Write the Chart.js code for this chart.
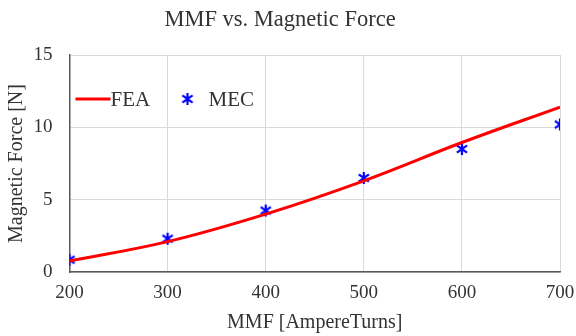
<!DOCTYPE html>
<html>
<head>
<meta charset="utf-8">
<script src="https://cdn.jsdelivr.net/npm/chart.js@4"></script>
<style>
  html, body { margin: 0; padding: 0; background: #fff; }
</style>
</head>
<body>
<canvas id="c" width="576" height="336"></canvas>
<script>
const mmf = [200, 300, 400, 500, 600, 700]
const feaForce = [0.76, 2.1, 4.0, 6.3, 8.95, 11.4]
const mecForce = [0.85, 2.3, 4.25, 6.5, 8.5, 10.2]
const yTicks = [0, 5, 10, 15]

// six-armed asterisk marker like the original
function asterisk(size, color) {
    const cv = document.createElement('canvas')
    cv.width = size
    cv.height = size
    const g = cv.getContext('2d')
    const r = size / 2 - 1
    const c = size / 2
    g.strokeStyle = color
    g.lineWidth = 2.2
    g.beginPath()
    g.moveTo(c, c - r); g.lineTo(c, c + r)
    g.moveTo(c - r * 0.85, c - r * 0.6); g.lineTo(c + r * 0.85, c + r * 0.6)
    g.moveTo(c + r * 0.85, c - r * 0.6); g.lineTo(c - r * 0.85, c + r * 0.6)
    g.stroke()
    return cv
}
const star = asterisk(14, '#0000ff')

const font = 'Liberation Serif'

// legend drawn inside the plot area, top-left, like the original
const innerLegend = {
    id: 'innerLegend',
    afterDatasetsDraw(chart) {
        const ctx = chart.ctx
        const area = chart.chartArea
        const y = area.top + 44
        let x = area.left + 6
        ctx.save()
        ctx.font = '21px ' + font
        ctx.fillStyle = '#333'
        ctx.textBaseline = 'middle'
        ctx.strokeStyle = '#ff0000'
        ctx.lineWidth = 3
        ctx.beginPath()
        ctx.moveTo(x, y)
        ctx.lineTo(x + 35, y)
        ctx.stroke()
        ctx.fillText(chart.data.datasets[0].label, x + 35, y + 1)
        x = area.left + 118
        ctx.drawImage(star, x - 7, y - 7)
        ctx.fillText(chart.data.datasets[1].label, x + 21, y + 1)
        ctx.restore()
    },
}

new Chart(document.getElementById('c'), {
    type: 'scatter',
    data: {
        datasets: [
            {
                label: 'FEA',
                data: mmf.map((x, i) => ({ x: x, y: feaForce[i] })),
                showLine: true,
                borderColor: '#ff0000',
                backgroundColor: '#ff0000',
                borderWidth: 3,
                pointRadius: 0,
                tension: 0.4,
            },
            {
                label: 'MEC',
                data: mmf.map((x, i) => ({ x: x, y: mecForce[i] })),
                showLine: false,
                pointStyle: star,
                borderColor: '#0000ff',
                backgroundColor: '#0000ff',
            },
        ],
    },
    options: {
        responsive: false,
        animation: false,
        layout: { padding: { left: 0, right: 16, top: 0, bottom: 0 } },
        plugins: {
            title: {
                display: true,
                text: 'MMF vs. Magnetic Force',
                color: '#333',
                font: { family: font, size: 22.5, weight: 'normal' },
                padding: { top: 7, bottom: 21 },
            },
            legend: { display: false },
            tooltip: { enabled: false },
        },
        scales: {
            x: {
                type: 'linear',
                min: 200,
                max: 700,
                afterFit(axis) {
                    axis.height = 64
                    axis.paddingLeft = 0
                    axis.paddingRight = 0
                },
                ticks: {
                    stepSize: 100,
                    color: '#333',
                    font: { family: font, size: 19 },
                    padding: 10,
                },
                grid: { color: '#d9d9d9', drawTicks: false },
                border: { color: '#595959', width: 1.5 },
                title: {
                    display: true,
                    text: 'MMF [AmpereTurns]',
                    color: '#333',
                    font: { family: font, size: 20 },
                    padding: { top: 0, bottom: 1 },
                },
            },
            y: {
                min: 0,
                max: 15,
                afterBuildTicks(axis) { axis.ticks = yTicks.map(v => ({ value: v })) },
                afterFit(axis) { axis.width = 69.5 },
                ticks: {
                    color: '#333',
                    font: { family: font, size: 19 },
                    padding: 17,
                },
                grid: { color: '#d9d9d9', drawTicks: false },
                border: { color: '#595959', width: 1.5 },
                title: {
                    display: true,
                    text: 'Magnetic Force [N]',
                    color: '#333',
                    font: { family: font, size: 20 },
                    padding: { top: 5, bottom: 0 },
                },
            },
        },
    },
    plugins: [innerLegend],
})
</script>
</body>
</html>
